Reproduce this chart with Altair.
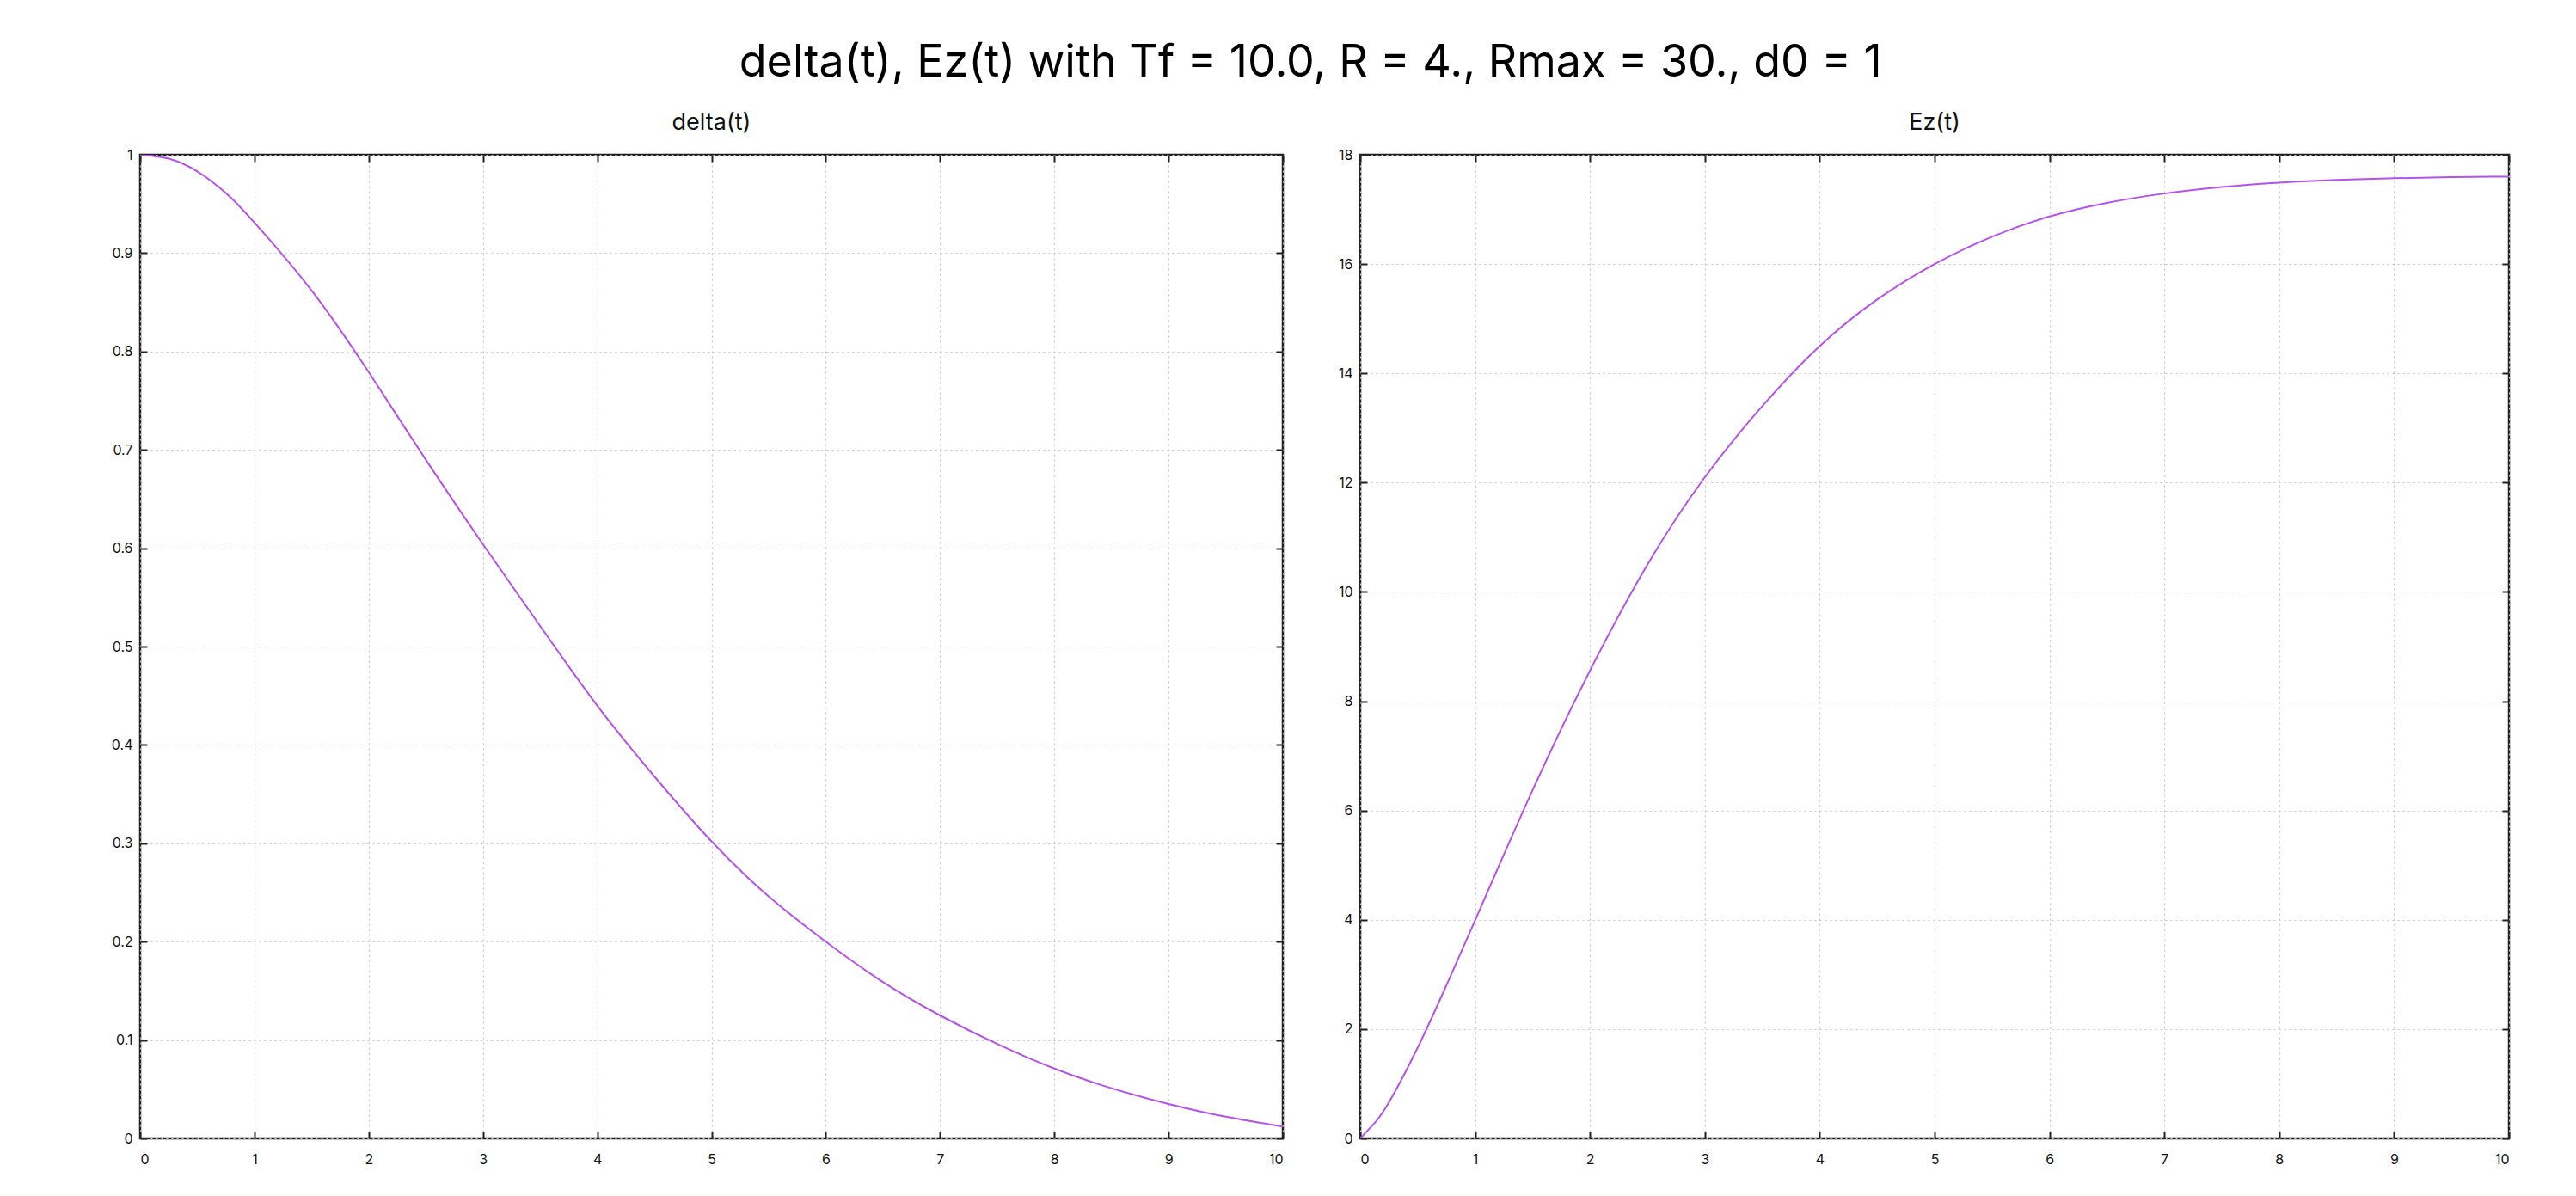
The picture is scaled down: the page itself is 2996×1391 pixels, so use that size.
import altair as alt
import pandas as pd

# ---- data ----
t_delta = [0, 0.25, 0.5, 0.75, 1, 1.5, 2, 2.5, 3, 3.5, 4, 4.5, 5, 5.5, 6, 6.5, 7, 7.5, 8, 8.5, 9, 9.5, 10]
delta_vals = [1.0, 0.996, 0.983, 0.961, 0.931, 0.862, 0.779, 0.69, 0.604, 0.521, 0.440, 0.368, 0.302,
              0.246, 0.200, 0.159, 0.125, 0.096, 0.071, 0.051, 0.035, 0.022, 0.012]

t_ez = [0, 0.125, 0.25, 0.5, 0.75, 1, 1.5, 2, 2.5, 3, 3.5, 4, 4.5, 5, 5.5, 6, 6.5, 7, 7.5, 8, 8.5, 9, 9.5, 10]
ez_vals = [0, 0.28, 0.66, 1.66, 2.80, 3.99, 6.37, 8.56, 10.5, 12.1, 13.4, 14.5, 15.35, 16.0, 16.5,
           16.87, 17.12, 17.29, 17.41, 17.49, 17.54, 17.57, 17.59, 17.6]

x_ticks = [0, 1, 2, 3, 4, 5, 6, 7, 8, 9, 10]
delta_ticks = [0, 0.1, 0.2, 0.3, 0.4, 0.5, 0.6, 0.7, 0.8, 0.9, 1]
ez_ticks = [0, 2, 4, 6, 8, 10, 12, 14, 16, 18]

main_title = "delta(t), Ez(t) with Tf = 10.0, R = 4., Rmax = 30., d0 = 1"
left_title = "delta(t)"
right_title = "Ez(t)"

LINE_COLOR = "#b452ec"
FONT = "Inter"
H = 1144


def panel(t, v, ydomain, yticks, yformat, title, width):
    df = pd.DataFrame({"t": t, "v": v})
    base = alt.Chart(df)
    xs = alt.Scale(domain=[0, 10], nice=False, zero=False)
    ys = alt.Scale(domain=ydomain, nice=False, zero=False)
    common = dict(domain=False, tickColor="#222222", tickWidth=2, tickSize=8,
                  offset=-8, labelFont=FONT, labelFontSize=16, labelColor="#111111")
    line = base.mark_line(color=LINE_COLOR, strokeWidth=2, interpolate="natural", clip=True).encode(
        x=alt.X("t:Q", scale=xs, title=None,
                axis=alt.Axis(orient="bottom", values=x_ticks, format="d", grid=True,
                              gridColor="#c4c4c4", gridDash=[2, 4], gridWidth=1.2,
                              labelPadding=16, **common)),
        y=alt.Y("v:Q", scale=ys, title=None,
                axis=alt.Axis(orient="left", values=yticks, format=yformat, grid=True,
                              gridColor="#c4c4c4", gridDash=[2, 4], gridWidth=1.2,
                              labelPadding=9, **common)),
    )
    mirror = base.mark_line(opacity=0).encode(
        x=alt.X("t:Q", scale=xs, title=None,
                axis=alt.Axis(orient="top", values=x_ticks, labels=False, grid=False, **common)),
        y=alt.Y("v:Q", scale=ys, title=None,
                axis=alt.Axis(orient="right", values=yticks, labels=False, grid=False, **common)),
    )
    return alt.layer(line, mirror).resolve_axis(x="independent", y="independent").properties(
        width=width, height=H,
        title=alt.TitleParams(title, font=FONT, fontSize=27, fontWeight="normal",
                              color="#111111", anchor="middle", offset=15),
    )


left = panel(t_delta, delta_vals, [0, 1], delta_ticks, "~g", left_title, 1329)
right = panel(t_ez, ez_vals, [0, 18], ez_ticks, "d", right_title, 1336)

chart = alt.hconcat(left, right, spacing=59).properties(
    title=alt.TitleParams(main_title, font=FONT, fontSize=52, fontWeight="normal",
                          color="#000000", anchor="middle", offset=28),
    padding={"left": 120, "top": 38, "right": 20, "bottom": 10},
    background="white",
).configure_view(stroke="#1e1e1e", strokeWidth=2.5)

chart.save("out.html", embed_options={"renderer": "svg", "actions": False})
